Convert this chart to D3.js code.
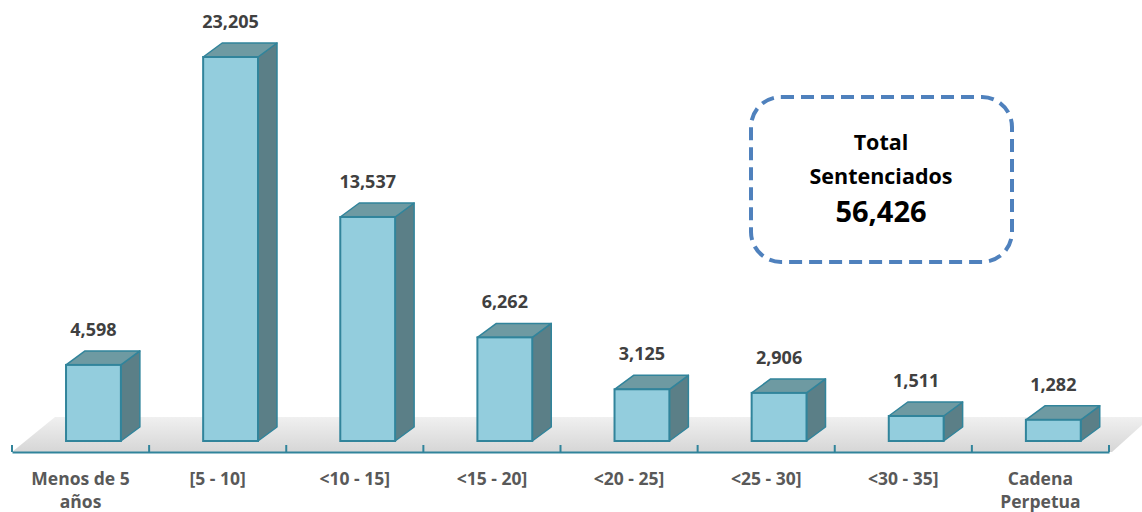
<!DOCTYPE html>
<html>
<head>
<meta charset="utf-8">
<script src="https://cdn.jsdelivr.net/npm/d3@7"></script>
<style>
  body { margin: 0; background: #fff; }
  text { font-family: "Open Sans", "Noto Sans", sans-serif; }
</style>
</head>
<body>
<div id="wrapper"></div>
<script>
const categories = ["Menos de 5 años", "[5 - 10]", "<10 - 15]", "<15 - 20]", "<20 - 25]", "<25 - 30]", "<30 - 35]", "Cadena Perpetua"];
const categoryLines = [["Menos de 5", "años"], ["[5 - 10]"], ["<10 - 15]"], ["<15 - 20]"], ["<20 - 25]"], ["<25 - 30]"], ["<30 - 35]"], ["Cadena", "Perpetua"]];
const values = [4598, 23205, 13537, 6262, 3125, 2906, 1511, 1282];
const totalLines = ["Total", "Sentenciados"];
const totalValue = 56426;

function drawChart() {
  const dimensions = {
    width: 1142,
    height: 512,
    axisY: 452,
    barBase: 441
  };

  const svg = d3.select("#wrapper")
    .append("svg")
      .attr("width", dimensions.width)
      .attr("height", dimensions.height);

  const xScale = d3.scaleBand()
    .domain(categories)
    .range([12, 1109])
    .padding(0);

  const yScale = d3.scaleLinear()
    .domain([0, 23205])
    .range([dimensions.barBase, 57]);

  const fmt = d3.format(",");
  const depthX = 19, depthY = -14;

  // floor
  const grad = svg.append("defs").append("linearGradient")
    .attr("id", "floorGrad")
    .attr("x1", 0).attr("y1", 0).attr("x2", 0).attr("y2", 1);
  grad.append("stop").attr("offset", "0%").attr("stop-color", "#f0f0f0");
  grad.append("stop").attr("offset", "100%").attr("stop-color", "#d6d6d6");

  svg.append("path")
    .attr("d", `M12,${dimensions.axisY} L55,417 L1142,417 L1142,425 L1112,${dimensions.axisY} Z`)
    .attr("fill", "url(#floorGrad)");

  // bars
  const bw = xScale.bandwidth();
  const bars = svg.append("g")
    .selectAll("g")
    .data(categories)
    .join("g");

  bars.each(function (c, i) {
    const g = d3.select(this);
    const x0 = xScale(c) + bw * 0.394;
    const w = bw * 0.4;
    const yTop = yScale(values[i]);
    const yBot = yScale(0);

    // side
    g.append("path")
      .attr("d", `M${x0 + w},${yTop} L${x0 + w + depthX},${yTop + depthY} L${x0 + w + depthX},${yBot + depthY} L${x0 + w},${yBot} Z`)
      .attr("fill", "#5b7f87")
      .attr("stroke", "#31849b")
      .attr("stroke-width", 1.5)
      .attr("stroke-linejoin", "round");
    // top
    g.append("path")
      .attr("d", `M${x0},${yTop} L${x0 + depthX},${yTop + depthY} L${x0 + w + depthX},${yTop + depthY} L${x0 + w},${yTop} Z`)
      .attr("fill", "#6e9aa2")
      .attr("stroke", "#31849b")
      .attr("stroke-width", 1.5)
      .attr("stroke-linejoin", "round");
    // front
    g.append("rect")
      .attr("x", x0)
      .attr("y", yTop)
      .attr("width", w)
      .attr("height", yBot - yTop)
      .attr("fill", "#93cddd")
      .attr("stroke", "#31849b")
      .attr("stroke-width", 2);

    g.append("text")
      .attr("x", x0 + w / 2)
      .attr("y", yTop + depthY - 15)
      .attr("text-anchor", "middle")
      .attr("fill", "#404040")
      .style("font-size", "18px")
      .style("font-weight", "bold")
      .text(fmt(values[i]));
  });

  // axis
  const xAxis = d3.axisBottom(xScale)
    .tickSize(0)
    .tickFormat("");

  const axisG = svg.append("g")
    .attr("transform", `translate(0, ${dimensions.axisY})`)
    .call(xAxis);
  axisG.select(".domain")
    .attr("stroke", "#31849b")
    .attr("stroke-width", 2);

  const edges = categories.map(c => xScale(c)).concat([xScale.range()[1]]);
  axisG.selectAll(".edge")
    .data(edges)
    .join("line")
      .attr("x1", d => d).attr("x2", d => d)
      .attr("y1", 0).attr("y2", -7)
      .attr("stroke", "#31849b")
      .attr("stroke-width", 2);

  const labels = svg.append("g")
    .selectAll("text")
    .data(categories)
    .join("text")
      .attr("x", d => xScale(d) + bw / 2)
      .attr("y", 485)
      .attr("text-anchor", "middle")
      .attr("fill", "#595959")
      .style("font-size", "17.5px")
      .style("font-weight", "bold");

  labels.each(function (d, i) {
    d3.select(this).selectAll("tspan")
      .data(categoryLines[i])
      .join("tspan")
        .attr("x", xScale(d) + bw / 2)
        .attr("dy", (t, j) => j === 0 ? 0 : 23)
        .text(t => t);
  });

  // total box
  const box = svg.append("g");
  box.append("rect")
    .attr("x", 751)
    .attr("y", 97)
    .attr("width", 261)
    .attr("height", 165)
    .attr("rx", 30)
    .attr("fill", "none")
    .attr("stroke", "#4f81bd")
    .attr("stroke-width", 4)
    .attr("stroke-dasharray", "13 7");

  box.selectAll(".tl")
    .data(totalLines)
    .join("text")
      .attr("x", 881)
      .attr("y", (d, i) => 150 + i * 34)
      .attr("text-anchor", "middle")
      .attr("fill", "#000")
      .style("font-size", "21.5px")
      .style("font-weight", "bold")
      .text(d => d);

  box.append("text")
    .attr("x", 881)
    .attr("y", 222)
    .attr("text-anchor", "middle")
    .attr("fill", "#000")
    .style("font-size", "29px")
    .style("font-weight", "bold")
    .text(fmt(totalValue));
}

drawChart();
</script>
</body>
</html>
